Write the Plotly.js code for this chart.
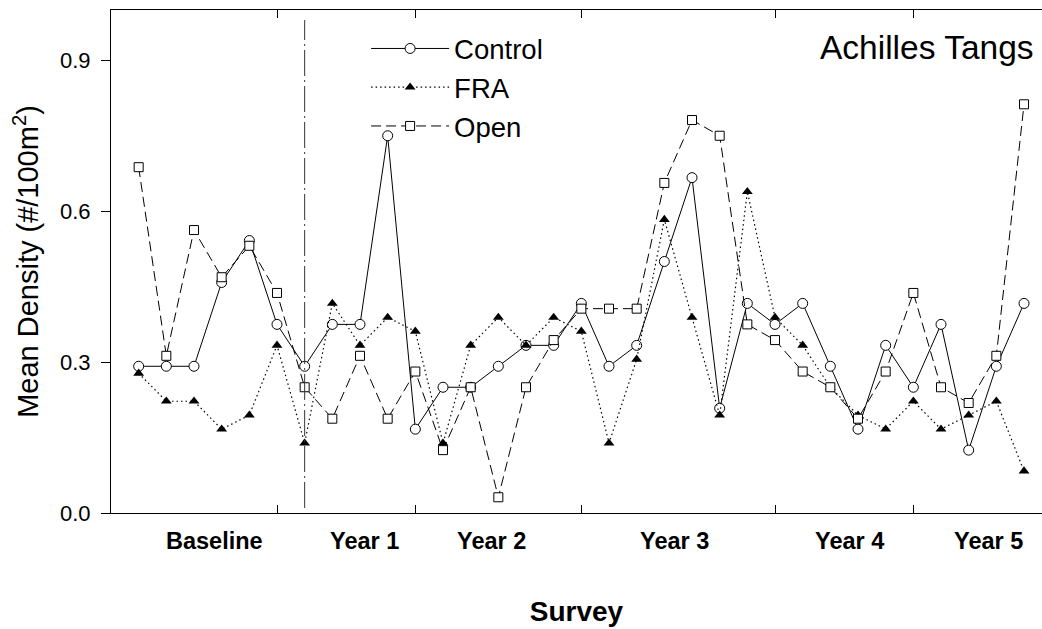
<!DOCTYPE html>
<html>
<head>
<meta charset="utf-8">
<script src="https://cdn.plot.ly/plotly-3.0.1.min.js"></script>
<style>html,body{margin:0;padding:0;background:#fff;}#chart{width:1042px;height:629px;}</style>
</head>
<body>
<div id="chart"></div>
<script>
const surveys = [1,2,3,4,5,6,7,8,9,10,11,12,13,14,15,16,17,18,19,20,21,22,23,24,25,26,27,28,29,30,31,32,33];
const control = [0.2917,0.2917,0.2917,0.4583,0.5417,0.375,0.2917,0.375,0.375,0.75,0.1667,0.25,0.25,0.2917,0.3333,0.3333,0.4167,0.2917,0.3333,0.5,0.6667,0.2083,0.4167,0.375,0.4167,0.2917,0.1667,0.3333,0.25,0.375,0.125,0.2917,0.4167];
const fra = [0.2778,0.2222,0.2222,0.1667,0.1944,0.3333,0.1389,0.4167,0.3333,0.3889,0.3611,0.1389,0.3333,0.3889,0.3333,0.3889,0.3611,0.1389,0.3056,0.5833,0.3889,0.1944,0.6389,0.3889,0.3333,0.25,0.1944,0.1667,0.2222,0.1667,0.1944,0.2222,0.0833];
const openArea = [0.6875,0.3125,0.5625,0.46875,0.53125,0.4375,0.25,0.1875,0.3125,0.1875,0.28125,0.125,0.25,0.03125,0.25,0.34375,0.40625,0.40625,0.40625,0.65625,0.78125,0.75,0.375,0.34375,0.28125,0.25,0.1875,0.28125,0.4375,0.25,0.21875,0.3125,0.8125];
const yearTicks = [6,11,17,24,29];
const periodLabels = ['Baseline','Year 1','Year 2','Year 3','Year 4','Year 5'];
const periodLabelPos = [3.74,9.16,13.74,20.37,26.69,31.72];
const closureSurvey = 7;

const FONT = 'Liberation Sans, Arial, Helvetica, sans-serif';

const traces = [
  {x: surveys, y: control, name: 'Control', type: 'scatter', mode: 'lines+markers',
   line: {color: '#000', width: 1, dash: 'solid'},
   marker: {symbol: 'circle', size: 10, color: '#fff', line: {color: '#000', width: 1}}},
  {x: surveys, y: fra, name: 'FRA', type: 'scatter', mode: 'lines+markers',
   line: {color: '#000', width: 1.2, dash: '1.5px,3px'},
   marker: {symbol: 'triangle-up', size: 9.5, color: '#000', line: {color: '#000', width: 0}}},
  {x: surveys, y: openArea, name: 'Open', type: 'scatter', mode: 'lines+markers',
   line: {color: '#000', width: 1, dash: '10px,5px'},
   marker: {symbol: 'square', size: 9, color: '#fff', line: {color: '#000', width: 1}}}
];

const annotations = periodLabels.map((t, i) => ({
  text: '<b>' + t + '</b>', x: periodLabelPos[i], xref: 'x', y: -0.055, yref: 'paper',
  xanchor: 'center', yanchor: 'middle', showarrow: false,
  font: {family: FONT, size: 23.5, color: '#000'}
}));
annotations.push({
  text: 'Achilles Tangs', x: 0.9935, xref: 'paper', y: 0.926, yref: 'paper',
  xanchor: 'right', yanchor: 'middle', showarrow: false,
  font: {family: FONT, size: 33.5, color: '#000'}
});

const layout = {
  width: 1042, height: 629,
  margin: {l: 111, r: 0, t: 10, b: 116},
  paper_bgcolor: '#fff', plot_bgcolor: '#fff',
  font: {family: FONT, color: '#000'},
  showlegend: true,
  legend: {x: 0.274, y: 0.972, xanchor: 'left', yanchor: 'top', bgcolor: 'rgba(0,0,0,0)',
           borderwidth: 0, itemwidth: 78, tracegroupgap: 0,
           font: {family: FONT, size: 27.5, color: '#000'}},
  xaxis: {range: [0, 33.65], showgrid: false, zeroline: false, showline: true, linecolor: '#000', linewidth: 1,
          mirror: 'ticks', ticks: 'inside', ticklen: 8, tickcolor: '#000', tickwidth: 1,
          tickmode: 'array', tickvals: yearTicks, showticklabels: false,
          title: {text: '<b>Survey</b>', font: {family: FONT, size: 28, color: '#000'}, standoff: 88}},
  yaxis: {range: [0, 1.0], showgrid: false, zeroline: false, showline: true, linecolor: '#000', linewidth: 1,
          ticks: 'outside', ticklen: 9, tickcolor: '#000', tickwidth: 1,
          tickmode: 'array', tickvals: [0, 0.3, 0.6, 0.9], ticktext: ['0.0','0.3','0.6','0.9'],
          tickfont: {family: FONT, size: 22, color: '#000'}, ticklabelstandoff: 6,
          title: {text: 'Mean Density (#/100m<sup>2</sup>)', font: {family: FONT, size: 29, color: '#000'}, standoff: 12}},
  shapes: [{type: 'line', xref: 'x', yref: 'paper', x0: closureSurvey, x1: closureSurvey, y0: 0.01, y1: 0.98,
            line: {color: '#333', width: 1, dash: '26px,4px,2px,4px'}}],
  annotations: annotations
};

Plotly.newPlot('chart', traces, layout, {displayModeBar: false, staticPlot: true});
</script>
</body>
</html>
